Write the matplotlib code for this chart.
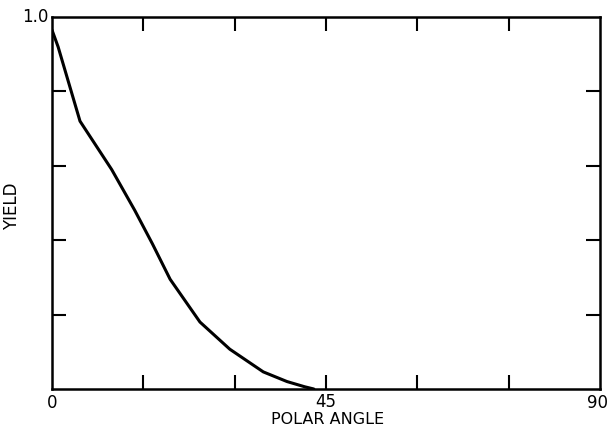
import matplotlib.pyplot as plt
from matplotlib.transforms import offset_copy

# values
angle = [0, 1, 4.6, 9.8, 13.6, 16.5, 19.4, 24.3, 29.2, 34.7, 38.6, 41.5, 43.0]
yield_ = [0.965, 0.92, 0.72, 0.59, 0.48, 0.39, 0.295, 0.18, 0.107, 0.046, 0.02, 0.006, 0.0]

x_ticks = [15, 30, 45, 60, 75]
x_labels = ["", "", "45", "", ""]
y_ticks = [0.2, 0.4, 0.6, 0.8]

plt.rcParams['font.family'] = ['DejaVu Sans']
fig = plt.figure(figsize=(6.08, 4.30), dpi=100)
ax = fig.add_axes([52 / 608, 1 - 389 / 430, 548 / 608, 372 / 430])

ax.plot(angle, yield_, color="black", lw=2.2, solid_capstyle="round")

ax.set_xlim(0, 90)
ax.set_ylim(0, 1.0)
ax.set_xticks(x_ticks)
ax.set_xticklabels(x_labels, fontsize=12)
ax.set_yticks(y_ticks)
ax.set_yticklabels([])
ax.tick_params(direction="in", length=10, width=1.5, top=True, right=True,
               pad=3)
for s in ax.spines.values():
    s.set_linewidth(1.8)

# end labels of the axes (no tick marks there in the original)
ax.text(0, 0, "0", transform=offset_copy(ax.transData, fig, x=0, y=-5, units="dots"),
        ha="center", va="top", fontsize=12)
ax.text(90, 0, "90", transform=offset_copy(ax.transData, fig, x=-3, y=-5, units="dots"),
        ha="center", va="top", fontsize=12)
ax.text(0, 1.0, "1.0", transform=offset_copy(ax.transData, fig, x=-3, y=0, units="dots"),
        ha="right", va="center", fontsize=12)

ax.set_xlabel("POLAR ANGLE", fontsize=11.5, va="top")
ax.xaxis.set_label_coords(0.502, -0.062)
ax.set_ylabel("YIELD", fontsize=12)
ax.yaxis.set_label_coords(-0.056, 0.49)

fig.savefig("out.png", dpi=100)
